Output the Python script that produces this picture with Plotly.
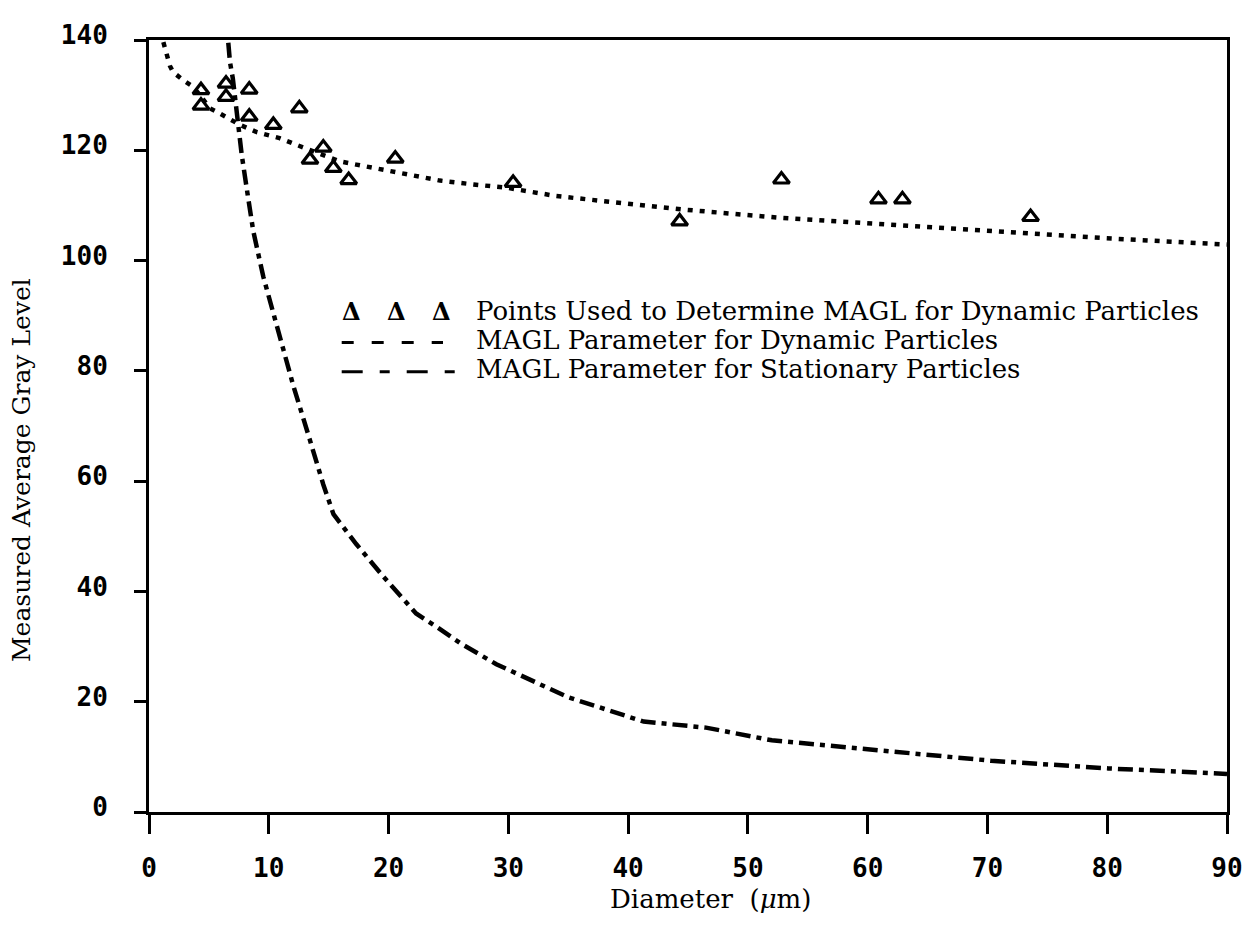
import plotly.graph_objects as go

# ---- data ----
pts_x = [4.34, 4.34, 6.43, 6.43, 8.37, 8.37, 10.38, 12.55, 13.44, 14.55,
         15.39, 16.67, 20.56, 30.4, 44.3, 52.8, 60.9, 62.9, 73.6]
pts_y = [130.9, 128.1, 132.1, 129.7, 131.0, 126.1, 124.6, 127.6, 118.3, 120.5,
         116.8, 114.6, 118.5, 114.1, 107.1, 114.7, 111.1, 111.1, 107.9]

dyn_x = [1.2, 1.48, 1.75, 2.0, 2.86, 3.7, 5.1, 5.65, 6.76, 7.6, 9.0, 10.9, 12.3,
         13.7, 15.9, 17.3, 20.1, 24.3, 27.1, 29.9, 34.0, 44.4, 52.4, 61.1, 70.5,
         79.5, 90.0]
dyn_y = [139.6, 137.1, 135.3, 134.2, 132.7, 131.5, 127.6, 127.0, 125.6, 124.6,
         123.3, 122.2, 121.0, 119.9, 118.0, 117.4, 116.2, 114.5, 113.8, 113.2,
         111.7, 109.3, 107.8, 106.6, 105.4, 104.1, 102.9]

sta_x = [6.62, 6.76, 7.0, 7.45, 7.74, 8.15, 8.7, 9.54, 10.66, 12.05, 13.4, 14.55,
         15.4, 17.3, 19.6, 22.3, 24.0, 26.0, 29.0, 35.0, 41.3, 46.5, 52.0, 60.5,
         70.3, 80.1, 90.0]
sta_y = [139.5, 136.0, 133.0, 124.0, 119.2, 113.2, 105.4, 97.1, 88.1, 77.3, 67.7,
         59.4, 54.0, 48.6, 42.6, 36.0, 33.6, 30.6, 26.8, 20.8, 16.4, 15.3, 13.0,
         11.2, 9.3, 7.9, 6.9]

x_ticks = [0, 10, 20, 30, 40, 50, 60, 70, 80, 90]
y_ticks = [0, 20, 40, 60, 80, 100, 120, 140]

legend_labels = ["Points Used to Determine MAGL for Dynamic Particles",
                 "MAGL Parameter for Dynamic Particles",
                 "MAGL Parameter for Stationary Particles"]
x_title = "Diameter  (<i>μ</i>m)"
y_title = "Measured Average Gray Level"

# ---- figure ----
OFF = 8  # page body margin
W, H = 1248, 920
L, R, T, B = 141, 29, 23, 116
PW, PH = W - L - R, H - T - B

fig = go.Figure()
fig.add_trace(go.Scatter(x=dyn_x, y=dyn_y, mode="lines",
                         line=dict(color="black", width=4.5, dash="5px,7px"),
                         hoverinfo="skip", showlegend=False))
fig.add_trace(go.Scatter(x=sta_x, y=sta_y, mode="lines",
                         line=dict(color="black", width=4.5, dash="15px,6px,5px,6px"),
                         hoverinfo="skip", showlegend=False))
fig.add_trace(go.Scatter(x=pts_x, y=pts_y, mode="markers",
                         marker=dict(symbol="triangle-up-open", size=14, color="black",
                                     line=dict(color="black", width=3.2)),
                         showlegend=False))

serif = "DejaVu Serif"
mono = "DejaVu Sans Mono"

def px(xp):
    return (xp - OFF - L) / PW

def py(yp):
    return 1 - (yp - OFF - T) / PH

annotations = []
for xc in [351.7, 396.7, 441.7]:
    annotations.append(dict(x=px(xc), y=py(306), xref="paper", yref="paper",
                            text="<b>Δ</b>", showarrow=False, xanchor="center", yanchor="middle",
                            font=dict(family=serif, size=24, color="black")))
for i, lab in enumerate(legend_labels):
    annotations.append(dict(x=px(474), y=py(305 + 29.5 * i), xref="paper", yref="paper",
                            text=lab, showarrow=False, xanchor="left", yanchor="middle",
                            font=dict(family=serif, size=26, color="black")))
annotations.append(dict(x=px(710), y=py(900), xref="paper", yref="paper",
                        text=x_title, showarrow=False, xanchor="center", yanchor="middle",
                        font=dict(family=serif, size=26, color="black")))
annotations.append(dict(x=px(22), y=py(466), xref="paper", yref="paper",
                        text=y_title, showarrow=False, xanchor="center", yanchor="middle",
                        textangle=-90, font=dict(family=serif, size=25, color="black")))

shapes = [
    dict(type="line", xref="paper", yref="paper", x0=px(341.7), x1=px(443),
         y0=py(337), y1=py(337), line=dict(color="black", width=3, dash="12px,18px")),
    dict(type="line", xref="paper", yref="paper", x0=px(341.7), x1=px(455),
         y0=py(366.5), y1=py(366.5), line=dict(color="black", width=3, dash="21px,17px,10px,17px")),
]

axis_common = dict(showgrid=False, zeroline=False, showline=True, linecolor="black",
                   linewidth=3, mirror=True, ticks="outside", tickcolor="black",
                   tickwidth=2.5, tickfont=dict(family=mono, size=26, color="black", weight="bold"))

fig.update_layout(
    width=W, height=H, autosize=False,
    margin=dict(l=L, r=R, t=T, b=B, pad=0),
    paper_bgcolor="white", plot_bgcolor="white",
    xaxis=dict(range=[0, 90], tickvals=x_ticks, ticktext=[str(v) for v in x_ticks],
               ticklen=19, ticklabelstandoff=12, **axis_common),
    yaxis=dict(range=[0, 140], tickvals=y_ticks, ticktext=[str(v) for v in y_ticks],
               ticklen=12, ticklabelstandoff=21, ticklabelshift=-5, **axis_common),
    annotations=annotations, shapes=shapes, showlegend=False,
)

fig.write_html("out.html")
